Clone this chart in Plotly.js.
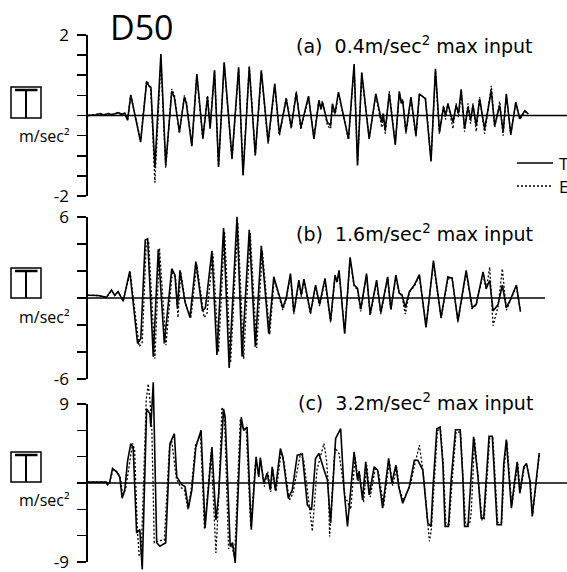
<!DOCTYPE html>
<html><head><meta charset="utf-8">
<script src="https://cdn.plot.ly/plotly-3.0.1.min.js"></script>
<style>html,body{margin:0;padding:0;background:#fff}#chart{width:567px;height:572px}</style>
</head><body><div id="chart"></div>
<script>
// ---------- DATA (time in s, acceleration in m/sec^2) ----------
const t_a=[0,0.4,0.6,0.8,1.0,1.2,1.5,1.7,1.83,1.97,2.13,2.62,2.92,3.05,3.13,3.33,3.63,3.87,4.17,4.3,4.55,4.8,4.9,5.17,5.42,5.72,5.95,6.08,6.3,6.5,6.78,7.17,7.5,7.72,8.03,8.33,8.63,8.97,9.3,9.53,9.87,10.12,10.37,10.6,10.98,11.25,11.5,11.6,11.67,11.92,12.08,12.17,12.3,12.47,12.97,13.25,13.42,13.63,14.0,14.33,14.63,14.7,14.8,15.0,15.3,15.5,15.6,15.67,15.83,16.08,16.33,16.5,16.8,17.08,17.3,17.5,17.7,17.8,17.92,18.17,18.33,18.45,18.58,18.75,18.92,19.05,19.17,19.33,19.5,19.75,20.08,20.25,20.5,20.67,20.83,21.05,21.3,21.5,21.75,21.92];
const T_a=[0,0.02,0.05,0.01,0.05,0.02,0.07,0.03,0.06,-0.12,0.51,-0.66,0.84,0.72,0.7,-1.3,1.53,-1.23,0.6,0.45,-0.41,0.46,0.29,-0.76,1.03,-0.56,0.46,-0.33,1.13,-1.28,1.32,-1.06,1.2,-1.49,1.2,-0.98,1.12,-0.66,0.79,-0.46,0.41,-0.29,0.56,-0.3,0.48,-0.58,0.37,0.15,0.33,-0.17,-0.25,0.29,0.05,0.58,-0.58,1.28,-1.24,1.07,-0.58,0.54,-0.17,0.05,-0.37,0.54,-0.73,0.6,0.3,0.37,-0.41,0.46,-0.5,0.54,0.41,-1.14,1.16,-0.41,0.21,0.0,0.29,-0.17,0.25,0.05,0.65,-0.33,0.21,-0.1,0.25,-0.25,0.41,-0.33,0.62,-0.25,0.25,-0.41,0.54,-0.48,0.33,-0.08,0.12,0.04];
const E_a=[0,0.02,0.04,0.02,0.05,0.03,0.06,0.03,0.05,-0.1,0.5,-0.62,0.86,0.76,0.66,-1.67,1.35,-1.3,0.66,0.52,-0.45,0.5,0.34,-0.74,1.0,-0.6,0.5,-0.3,1.1,-1.25,1.3,-1.1,1.16,-1.45,1.24,-1.0,1.08,-0.7,0.76,-0.5,0.45,-0.33,0.6,-0.35,0.45,-0.55,0.4,0.2,0.36,-0.25,-0.33,0.25,0.0,0.55,-0.6,1.2,-1.2,1.0,-0.55,0.5,-0.3,-0.05,-0.45,0.6,-0.7,0.55,0.35,0.4,-0.45,0.4,-0.52,0.5,0.45,-1.1,1.1,-0.45,0.25,-0.1,0.3,-0.33,0.3,-0.05,0.6,-0.4,0.3,-0.2,0.3,-0.4,0.45,-0.45,0.74,-0.3,0.35,-0.5,0.5,-0.45,0.3,-0.1,0.1,0.03];

const t_b=[0,0.5,0.92,1.17,1.33,1.5,1.75,2.08,2.47,2.63,2.85,2.97,3.25,3.5,3.8,4.17,4.33,4.45,4.58,4.83,5.08,5.37,5.7,5.85,6.17,6.42,6.75,7.03,7.42,7.67,8.03,8.33,8.63,9.0,9.25,9.5,9.7,9.87,10.08,10.25,10.5,10.62,10.75,11.08,11.33,11.53,11.8,12.08,12.3,12.4,12.5,12.78,13.05,13.25,13.42,13.58,13.87,14.05,14.37,14.58,14.92,15.08,15.33,15.5,15.63,15.8,16.0,16.25,16.5,16.83,17.2,17.58,17.92,18.13,18.42,18.83,19.13,19.33,19.67,19.83,20.0,20.17,20.42,20.63,20.83,21.0,21.33,21.53];
const T_b=[0.2,0.18,0.05,0.6,0.2,0.48,-0.24,1.98,-3.37,-3.0,4.3,4.39,-4.34,3.61,-3.37,2.17,1.7,-0.72,2.05,-0.3,-1.45,2.7,-0.96,-0.7,3.49,-4.22,5.18,-5.18,6.02,-4.34,5.06,-3.61,3.86,-2.65,1.57,0.24,-0.72,0.0,1.81,-1.08,1.33,0.2,1.4,-1.08,0.96,-0.48,1.45,-1.69,1.69,1.2,2.05,-2.65,3.01,0.96,0.72,-0.84,1.81,-1.2,1.33,-1.08,1.57,-0.84,1.69,0.36,0.24,-0.7,0.48,0.96,1.73,-2.17,2.77,-1.45,1.57,1.45,-1.69,2.05,-0.72,-0.48,1.93,0.72,1.3,-0.96,-0.48,0.96,-0.72,-0.24,0.96,-1.0];
const tE_b=[0,0.5,0.92,1.17,1.33,1.5,1.75,2.1,2.55,2.7,2.9,3.02,3.33,3.56,3.88,4.2,4.36,4.48,4.62,4.85,5.12,5.42,5.78,5.92,6.22,6.5,6.8,7.1,7.46,7.75,8.08,8.4,8.68,9.05,9.27,9.5,9.7,9.87,10.08,10.25,10.5,10.62,10.75,11.08,11.33,11.53,11.8,12.08,12.3,12.4,12.5,12.78,13.05,13.25,13.42,13.58,13.87,14.05,14.37,14.58,14.92,15.08,15.33,15.5,15.63,15.8,16.0,16.25,16.5,16.83,17.2,17.58,17.92,18.13,18.42,18.83,19.13,19.33,19.67,19.83,20.0,20.17,20.42,20.63,20.83,21.0,21.33,21.53];
const E_b=[0.2,0.18,0.05,0.55,0.2,0.45,-0.2,1.9,-3.6,-3.3,4.0,4.2,-4.5,3.7,-3.5,2.0,1.5,-1.45,1.9,-0.4,-1.5,2.5,-1.45,-1.2,3.3,-4.0,4.9,-4.8,5.6,-4.5,4.8,-3.7,3.5,-2.7,1.4,0.1,-0.9,-0.1,1.7,-1.2,1.2,0.1,1.3,-1.2,0.9,-0.6,1.3,-1.8,1.6,1.1,1.9,-2.5,2.9,0.9,0.6,-1.0,1.7,-1.3,1.2,-1.2,1.5,-0.9,1.6,0.3,0.2,-1.2,0.4,0.9,1.6,-2.1,2.6,-1.5,1.4,1.5,-1.8,1.9,-0.8,-0.5,1.8,0.6,2.29,-2.05,-0.6,2.17,-0.9,-0.3,0.9,-1.0];

const t_c=[0,0.92,0.97,1.08,1.22,1.42,1.58,1.7,1.83,1.97,2.13,2.25,2.42,2.58,2.7,2.92,3.08,3.13,3.25,3.42,3.58,3.87,4.08,4.3,4.42,4.67,4.83,5.0,5.17,5.37,5.63,5.83,6.17,6.37,6.5,6.75,6.83,7.08,7.2,7.33,7.63,7.75,7.92,8.13,8.37,8.5,8.58,8.75,8.92,9.08,9.17,9.33,9.58,9.7,9.97,10.17,10.42,10.67,10.92,11.13,11.33,11.5,11.75,11.92,12.08,12.33,12.58,12.75,12.92,13.17,13.25,13.42,13.5,13.67,13.83,14.0,14.25,14.42,14.67,14.97,15.13,15.33,15.47,15.67,16.0,16.25,16.42,16.67,16.92,17.08,17.17,17.37,17.53,17.67,17.78,17.95,18.08,18.3,18.53,18.67,18.75,18.92,19.03,19.2,19.42,19.58,19.7,19.83,19.97,20.13,20.25,20.37,20.58,20.7,20.83,20.97,21.08,21.25,21.37,21.5,21.7,21.83,22.0,22.12,22.3,22.47];
const T_c=[0.1,0.1,-0.2,0.1,1.66,1.28,0.7,-1.74,-0.8,2.5,4.49,4.0,-5.7,-5.3,-9.85,8.45,7.9,6.4,11.47,-6.8,-7.2,-6.8,4.49,5.62,0.7,-0.2,-0.4,-2.87,-0.8,4.1,6.0,-5.13,4.1,-4.2,-1.5,8.45,7.5,-7.2,-6.8,-9.1,7.5,6.0,6.38,-5.32,2.98,0.7,2.9,0.0,1.1,-0.8,1.85,-0.8,3.92,3.0,-1.74,-0.8,3.17,3.3,-2.5,-3.06,2.8,3.36,1.5,0.34,-4.57,5.06,6.19,-0.8,-4.94,1.1,3.55,0.34,1.28,-1.92,2.42,-1.36,1.85,1.47,-2.87,2.8,0.0,2.04,-0.4,-2.3,-0.4,2.6,2.6,1.47,-4.57,-4.94,-0.8,6.19,6.38,2.2,-4.94,-4.94,0.34,6.07,6.07,0.34,-4.94,-4.94,-0.4,5.25,0.7,-4.0,-4.0,0.34,5.32,5.32,-0.2,-4.75,-4.75,2.2,4.94,0.34,-2.87,0.34,2.42,-1.17,1.85,2.23,0.3,-3.81,0.34,3.43];
const tE_c=[0,0.92,0.97,1.08,1.25,1.45,1.62,1.74,1.88,2.05,2.22,2.32,2.45,2.55,2.65,2.9,3.0,3.1,3.18,3.3,3.5,3.8,4.05,4.17,4.4,4.62,4.8,4.97,5.15,5.35,5.6,5.8,6.13,6.37,6.5,6.67,6.8,7.0,7.15,7.3,7.58,7.72,7.88,8.1,8.35,8.5,8.6,8.78,8.95,9.1,9.2,9.36,9.62,9.75,10.02,10.2,10.58,10.75,11.0,11.17,11.4,11.75,11.88,11.96,12.03,12.3,12.5,12.8,13.08,13.2,13.3,13.45,13.5,13.72,13.88,14.05,14.3,14.47,14.72,15.0,15.17,15.37,15.52,15.7,16.05,16.28,16.5,16.7,17.0,17.1,17.22,17.4,17.55,17.7,17.82,17.98,18.12,18.33,18.55,18.7,18.8,19.0,19.08,19.25,19.45,19.62,19.73,19.86,20.0,20.16,20.28,20.4,20.6,20.73,20.86,21.0,21.1,21.28,21.4,21.52,21.72,21.85,22.02,22.14,22.32,22.47];
const E_c=[0.1,0.1,-0.2,0.1,1.5,1.3,0.5,-1.5,-0.6,2.2,4.5,3.8,-5.0,-8.3,-8.0,9.5,11.3,9.0,6.0,-6.8,-6.6,-6.5,4.0,4.8,0.5,-0.5,-0.8,-3.0,-0.5,4.3,5.5,-5.3,3.5,-7.96,-2.0,8.64,7.2,-7.5,-7.0,-8.5,7.2,6.2,6.0,-5.0,2.7,0.9,2.6,-0.4,1.3,-1.0,1.6,-1.0,3.5,2.6,-2.0,-1.2,3.36,2.5,-2.0,-5.5,1.5,4.5,2.5,0.0,-6.1,4.0,3.36,-1.5,-3.0,0.8,3.0,0.2,1.47,-2.2,2.0,-1.6,1.6,1.2,-2.6,2.5,-0.3,1.8,-0.8,-2.0,-0.2,2.2,4.3,1.0,-6.64,-5.2,-0.5,6.0,6.1,1.8,-4.7,-4.7,0.0,5.8,5.8,0.0,-4.7,-4.7,-3.4,5.0,0.4,-4.2,-4.2,0.0,5.1,5.1,-0.5,-4.5,-4.5,2.0,4.7,0.2,-2.6,0.2,2.2,-1.0,1.7,2.0,0.2,-3.6,0.2,3.3];

const tickvals_a=[-2,-1.5,-1,-0.5,0,0.5,1,1.5,2];
const ticktext_a=['-2','','','','','','','','2'];
const tickvals_b=[-6,-4,-2,0,2,4,6];
const ticktext_b=['-6','','','','','','6'];
const tickvals_c=[-9,-6,-3,0,3,6,9];
const ticktext_c=['-9','','','','','','9'];
const yRanges=[2,6,9];
const panelTitles=['(a)  0.4m/sec<sup>2</sup> max input','(b)  1.6m/sec<sup>2</sup> max input','(c)  3.2m/sec<sup>2</sup> max input'];
const seriesNames=['T','E'];
const chartTitle='D50';
const unitLabel='m/sec²';

// ---------- LAYOUT ----------
const W=567,H=572,X0=88;
const FONT="'Open Sans','Noto Sans',sans-serif";
const TFONT="'DejaVu Sans','Open Sans',sans-serif";
const fy=p=>1-p/H, fx=p=>p/W;
const geo=[
  {vis:[35,196],dat:[0,214],zeroEnd:567,box:[87,118],unit:136,title:45},
  {vis:[217,379],dat:[204,398],zeroEnd:545,box:[268,298],unit:317,title:233},
  {vis:[404,562],dat:[372,572],zeroEnd:567,box:[452,482],unit:500,title:402}
];
const panels=[
  {t:t_a,T:T_a,tE:t_a,E:E_a,tv:tickvals_a,tt:ticktext_a},
  {t:t_b,T:T_b,tE:tE_b,E:E_b,tv:tickvals_b,tt:ticktext_b},
  {t:t_c,T:T_c,tE:tE_c,E:E_c,tv:tickvals_c,tt:ticktext_c}
];
const layout={
  width:W,height:H,margin:{l:0,r:0,t:0,b:0},
  paper_bgcolor:'#fff',plot_bgcolor:'rgba(0,0,0,0)',showlegend:false,
  font:{family:FONT,color:'#000'},
  xaxis:{domain:[fx(X0),1],range:[0,23.85],visible:false,anchor:'y',fixedrange:true},
  shapes:[],annotations:[]
};
const data=[];
panels.forEach((p,i)=>{
  const g=geo[i],R=yRanges[i];
  const visKey=i===0?'yaxis':'yaxis'+(i+1);
  const visRef=i===0?'y':'y'+(i+1);
  layout[visKey]={domain:[fy(g.vis[1]),fy(g.vis[0])],range:[-R,R],anchor:'x',
    tickmode:'array',tickvals:p.tv,ticktext:p.tt,ticks:'outside',ticklen:9,tickwidth:1.6,tickcolor:'#000',
    showline:true,linewidth:1.6,linecolor:'#000',showgrid:false,zeroline:false,ticklabelstandoff:5,
    ticklabeloverflow:'allow',
    tickfont:{family:FONT,size:17,color:'#000'},fixedrange:true};
  // empty trace so the visible axis subplot is created (carries no marks)
  data.push({x:[],y:[],xaxis:'x',yaxis:visRef,type:'scatter',mode:'lines',hoverinfo:'skip',showlegend:false});
  const ppv=2*R/(g.vis[1]-g.vis[0]);
  const lo=-R-(g.dat[1]-g.vis[1])*ppv, hi=R+(g.vis[0]-g.dat[0])*ppv;
  const dk='y'+(i+4);
  layout['yaxis'+(i+4)]={domain:[fy(g.dat[1]),fy(g.dat[0])],range:[lo,hi],anchor:'x',visible:false,fixedrange:true};
  data.push({x:p.tE,y:p.E,xaxis:'x',yaxis:dk,mode:'lines',name:seriesNames[1],
    line:{color:'#000',width:1.3,dash:'2px,2px'},hoverinfo:'skip'});
  data.push({x:p.t,y:p.T,xaxis:'x',yaxis:dk,mode:'lines',name:seriesNames[0],
    line:{color:'#000',width:1.6},hoverinfo:'skip'});
  // zero line
  layout.shapes.push({type:'line',xref:'paper',yref:dk,x0:fx(X0),x1:fx(g.zeroEnd),y0:0,y1:0,line:{color:'#000',width:1.6}});
  // boxed T symbol
  const b0=g.box[0],b1=g.box[1];
  layout.shapes.push({type:'rect',xref:'paper',yref:'paper',x0:fx(11),x1:fx(41),y0:fy(b1),y1:fy(b0),line:{color:'#000',width:1.5}});
  layout.shapes.push({type:'line',xref:'paper',yref:'paper',x0:fx(15),x1:fx(37.5),y0:fy(b0+3),y1:fy(b0+3),line:{color:'#000',width:2.5}});
  layout.shapes.push({type:'line',xref:'paper',yref:'paper',x0:fx(26),x1:fx(26),y0:fy(b0+3),y1:fy(b1),line:{color:'#000',width:2}});
  layout.annotations.push({xref:'paper',yref:'paper',x:fx(44),y:fy(g.unit),text:unitLabel,showarrow:false,
    xanchor:'center',yanchor:'middle',font:{family:FONT,size:16,color:'#000'}});
  layout.annotations.push({xref:'paper',yref:'paper',x:fx(535),y:fy(g.title),text:panelTitles[i],showarrow:false,
    xanchor:'right',yanchor:'middle',font:{family:TFONT,size:19,color:'#000'}});
});
layout.annotations.push({xref:'paper',yref:'paper',x:fx(142),y:fy(27),text:chartTitle,showarrow:false,
  xanchor:'center',yanchor:'middle',font:{family:FONT,size:34,color:'#000'}});
// legend keys
layout.shapes.push({type:'line',xref:'paper',yref:'paper',x0:fx(517),x1:fx(553),y0:fy(163),y1:fy(163),line:{color:'#000',width:1.5}});
layout.shapes.push({type:'line',xref:'paper',yref:'paper',x0:fx(517),x1:fx(553),y0:fy(186),y1:fy(186),line:{color:'#000',width:1.3,dash:'2px,2px'}});
layout.annotations.push({xref:'paper',yref:'paper',x:fx(557),y:fy(163),text:seriesNames[0],showarrow:false,xanchor:'left',yanchor:'middle',font:{family:FONT,size:17,color:'#000'}});
layout.annotations.push({xref:'paper',yref:'paper',x:fx(557),y:fy(186),text:seriesNames[1],showarrow:false,xanchor:'left',yanchor:'middle',font:{family:FONT,size:17,color:'#000'}});

Plotly.newPlot('chart',data,layout,{staticPlot:true,displayModeBar:false});
</script></body></html>
